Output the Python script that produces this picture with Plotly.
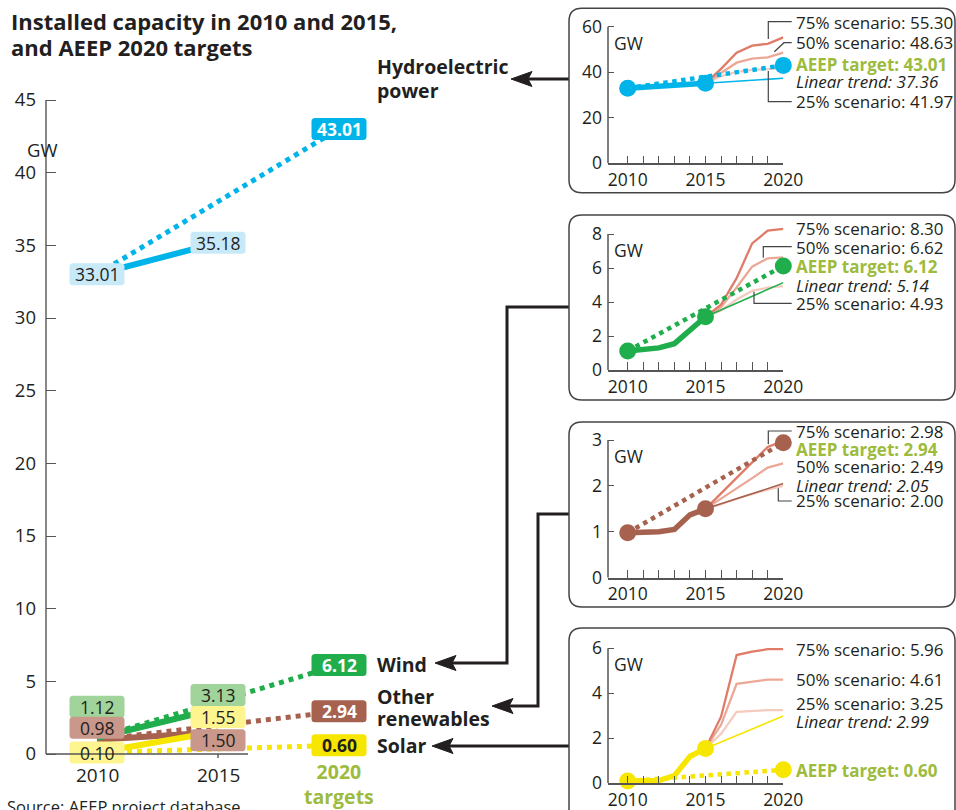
import plotly.graph_objects as go

# ---------------- data ----------------
years_actual = [2010, 2011, 2012, 2013, 2014, 2015]
years_scen = [2015, 2016, 2017, 2018, 2019, 2020]
trend_years = [2015, 2020]

hydro_actual = [33.01, 33.45, 33.9, 34.3, 34.75, 35.18]
hydro_s75 = [35.18, 41.5, 48.6, 51.7, 52.5, 55.30]
hydro_s50 = [35.18, 39.5, 44.2, 46.0, 46.5, 48.63]
hydro_s25 = [35.18, 38.3, 40.2, 41.0, 41.4, 41.97]
hydro_linear = [35.18, 37.36]
hydro_target = 43.01

wind_actual = [1.12, 1.2, 1.3, 1.55, 2.35, 3.13]
wind_s75 = [3.13, 3.85, 5.4, 7.45, 8.2, 8.30]
wind_s50 = [3.13, 3.7, 4.85, 6.08, 6.57, 6.62]
wind_s25 = [3.13, 3.5, 4.15, 4.65, 4.85, 4.93]
wind_linear = [3.13, 5.14]
wind_target = 6.12

other_actual = [0.98, 0.98, 1.0, 1.05, 1.37, 1.50]
other_s75 = [1.50, 1.84, 2.18, 2.52, 2.85, 2.98]
other_s50 = [1.50, 1.72, 1.95, 2.17, 2.40, 2.49]
other_s25 = [1.50, 1.60, 1.72, 1.82, 1.92, 2.00]
other_linear = [1.50, 2.05]
other_target = 2.94

solar_actual = [0.10, 0.10, 0.12, 0.34, 1.19, 1.55]
solar_s75 = [1.55, 2.96, 5.70, 5.85, 5.96, 5.96]
solar_s50 = [1.55, 2.60, 4.42, 4.52, 4.61, 4.61]
solar_s25 = [1.55, 2.20, 3.18, 3.22, 3.25, 3.25]
solar_linear = [1.55, 2.99]
solar_target = 0.60

main_years = [2010, 2015, 2020]
main_x_labels = ["2010", "2015", "2020<br>targets"]
main_y_ticks = [0, 5, 10, 15, 20, 25, 30, 35, 40, 45]
series_names = ["Hydroelectric<br>power", "Wind", "Other<br>renewables", "Solar"]
title_lines = ["Installed capacity in 2010 and 2015,", "and AEEP 2020 targets"]

# ---------------- styling ----------------
W, H = 956, 810
FONT = "Open Sans"
TXT = "#231f20"
AXC = "#555555"
GREEN_TXT = "#9dbb3c"
C75, C50, C25 = "#e07b68", "#eca897", "#f5cbbf"

def PX(x):
    return x / W

def PY(y):
    return 1 - y / H

series = [
    dict(key="hydro", actual=hydro_actual, s75=hydro_s75, s50=hydro_s50, s25=hydro_s25,
         lin=hydro_linear, target=hydro_target, col="#00b4e9", light="#c8e9f8", dark="#00b4e9",
         darktxt="white", ymax=60, ytick=[0, 20, 40, 60], y0px=163.3, ytoppx=26.7,
         shifts=(0, 0, 0)),
    dict(key="wind", actual=wind_actual, s75=wind_s75, s50=wind_s50, s25=wind_s25,
         lin=wind_linear, target=wind_target, col="#1fae4b", light="#a0d49b", dark="#1fae4b",
         darktxt="white", ymax=8, ytick=[0, 2, 4, 6, 8], y0px=370, ytoppx=234,
         shifts=(31, 13.5, 0)),
    dict(key="other", actual=other_actual, s75=other_s75, s50=other_s50, s25=other_s25,
         lin=other_linear, target=other_target, col="#a6614f", light="#ca978b", dark="#a6614f",
         darktxt="white", ymax=3, ytick=[0, 1, 2, 3], y0px=577.7, ytoppx=440,
         shifts=(12, -8, 0)),
    dict(key="solar", actual=solar_actual, s75=solar_s75, s50=solar_s50, s25=solar_s25,
         lin=solar_linear, target=solar_target, col="#f6e600", light="#fff590", dark="#f6e600",
         darktxt=TXT, ymax=6, ytick=[0, 2, 4, 6], y0px=783.3, ytoppx=648.3,
         shifts=(0, 14.5, 0)),
]

fig = go.Figure()

# ---------------- main chart ----------------
MX0, MX1 = 46, 420          # px extent of main x domain
X2010PX, PXYR = 97, 24.2
Y0PX, PXGW = 754, (754 - 100) / 45
main_xrange = [2010 - (X2010PX - MX0) / PXYR, 2010 + (MX1 - X2010PX) / PXYR]
main_yrange = [-1.2, 45.5]
main_ydom = [PY(Y0PX - main_yrange[0] * PXGW), PY(Y0PX - main_yrange[1] * PXGW)]

draw_order = [0, 2, 3, 1]
for i in draw_order:
    s = series[i]
    fig.add_trace(go.Scatter(x=[main_years[0], main_years[2]], y=[s["actual"][0], s["target"]],
                             mode="lines", line=dict(color=s["col"], width=5, dash="dot"),
                             xaxis="x", yaxis="y", hoverinfo="skip"))
    fig.add_trace(go.Scatter(x=[main_years[0], main_years[1]], y=[s["actual"][0], s["actual"][-1]],
                             mode="lines", line=dict(color=s["col"], width=6),
                             xaxis="x", yaxis="y", hoverinfo="skip"))

shapes = []
annotations = []

def rbox_path(w, h, r, c):
    x0, x1 = -w / 2, w / 2
    yb, yt = c - h / 2, c + h / 2
    return (f"M {x0+r},{yb} L {x1-r},{yb} Q {x1},{yb} {x1},{yb+r} L {x1},{yt-r} "
            f"Q {x1},{yt} {x1-r},{yt} L {x0+r},{yt} Q {x0},{yt} {x0},{yt-r} "
            f"L {x0},{yb+r} Q {x0},{yb} {x0+r},{yb} Z")

for s in series:
    vals = [s["actual"][0], s["actual"][-1], s["target"]]
    for j, (yr, v) in enumerate(zip(main_years, vals)):
        dark = j == 2
        shift = s["shifts"][j]
        shapes.append(dict(type="path", xref="x", yref="y", xsizemode="pixel", ysizemode="pixel",
                           xanchor=yr, yanchor=v, path=rbox_path(55, 22, 3.5, shift),
                           fillcolor=s["dark"] if dark else s["light"], line=dict(width=0),
                           layer="above"))
        annotations.append(dict(xref="x", yref="y", x=yr, y=v, yshift=shift, showarrow=False,
                                text=(f"<b>{v:.2f}</b>" if dark else f"{v:.2f}"),
                                font=dict(size=17.5, color=s["darktxt"] if dark else TXT,
                                          family=FONT)))

# main axis lines
shapes.append(dict(type="line", xref="paper", yref="y", x0=PX(MX0), x1=PX(MX0), y0=0, y1=45,
                   line=dict(color=AXC, width=1.4)))
shapes.append(dict(type="line", xref="paper", yref="y", x0=PX(MX0), x1=PX(248), y0=0, y1=0,
                   line=dict(color=AXC, width=1.4)))
shapes.append(dict(type="line", xref="x", yref="paper", x0=2015, x1=2015,
                   y0=PY(Y0PX), y1=PY(Y0PX + 4), line=dict(color=AXC, width=1.4)))

# main x labels
for yr, lab in zip(main_years, main_x_labels):
    if "targets" in lab:
        annotations.append(dict(xref="x", yref="paper", x=yr, y=PY(784), yanchor="middle",
                                showarrow=False, text=f"<b>{lab}</b>",
                                font=dict(size=19.5, color=GREEN_TXT, family=FONT)))
    else:
        annotations.append(dict(xref="x", yref="paper", x=yr, y=PY(774.5), yanchor="middle",
                                showarrow=False, text=lab,
                                font=dict(size=19, color=TXT, family=FONT)))

annotations.append(dict(xref="paper", yref="paper", x=PX(25), y=PY(135), showarrow=False,
                        text="GW", font=dict(size=18.5, color=TXT, family=FONT)))
for line, ypx in zip(title_lines, [21, 47]):
    annotations.append(dict(xref="paper", yref="paper", x=PX(9), y=PY(ypx), xanchor="left",
                            yanchor="middle", showarrow=False, text=f"<b>{line}</b>",
                            font=dict(size=22, color=TXT, family=FONT)))
annotations.append(dict(xref="paper", yref="paper", x=PX(5), y=PY(806), xanchor="left",
                        yanchor="middle", showarrow=False, text="Source: AEEP project database",
                        font=dict(size=16.5, color=TXT, family=FONT)))

# series name labels next to main chart
name_pos = [(67, 90), (664,), (696, 718), (745,)]
for name, ys in zip(series_names, name_pos):
    for part, ypx in zip(name.split("<br>"), ys):
        annotations.append(dict(xref="paper", yref="paper", x=PX(375), y=PY(ypx), xanchor="left",
                                yanchor="middle", showarrow=False, text=f"<b>{part}</b>",
                                font=dict(size=19.5, color=TXT, family=FONT)))

# connectors with arrowheads
connectors = [
    [(569, 79), (528, 79)],
    [(569, 307), (507, 307), (507, 663), (452, 663)],
    [(569, 514), (538, 514), (538, 706), (509, 706)],
    [(569, 746), (449, 746)],
]
tips = [(511, 79), (435, 663), (492, 706), (432, 746)]
for pts, (tx, ty) in zip(connectors, tips):
    p = "M " + " L ".join(f"{PX(x)},{PY(y)}" for x, y in pts)
    shapes.append(dict(type="path", xref="paper", yref="paper", path=p,
                       line=dict(color=TXT, width=3)))
    ah = (f"M {PX(tx)},{PY(ty)} L {PX(tx+21)},{PY(ty-7.5)} L {PX(tx+17)},{PY(ty)} "
          f"L {PX(tx+21)},{PY(ty+7.5)} Z")
    shapes.append(dict(type="path", xref="paper", yref="paper", path=ah, fillcolor=TXT,
                       line=dict(color=TXT, width=1)))

# ---------------- insets ----------------
IX0, I2010, I2020 = 608, 627.7, 783.3
ipx_yr = (I2020 - I2010) / 10
inset_xrange = [2010 - (I2010 - IX0) / ipx_yr, 2020]
panel_boxes = [(8.3, 192.7), (215, 400), (422, 607), (628, 840)]

label_specs = [
    [("s75", 22.7), ("s50", 42.7), ("tgt", 64.5), ("lin", 82), ("s25", 101.7)],
    [("s75", 228.3), ("s50", 247.3), ("tgt", 266.5), ("lin", 285), ("s25", 303.3)],
    [("s75", 431), ("tgt", 449), ("s50", 466.7), ("lin", 485), ("s25", 501)],
    [("s75", 649.3), ("s50", 679.3), ("s25", 703.3), ("lin", 721.7), ("tgt", 770.7)],
]
leaders = [
    [[(768.3, 39), (768.3, 21.7), (791.7, 21.7)],
     [(774.3, 51.7), (784, 42.7), (791.7, 42.7)],
     [(768.3, 71), (768.3, 101.7), (791.7, 101.7)]],
    [[(763.3, 257.7), (763.3, 246.7), (791.7, 246.7)],
     [(754, 291.7), (754, 303.3), (791.7, 303.3)]],
    [[(768.3, 444.3), (768.3, 431), (791.7, 431)],
     [(778.3, 488.3), (778.3, 501), (791.7, 501)]],
    [],
]

layout_axes = {}
for k, s in enumerate(series):
    n = k + 2
    xa, ya = f"x{n}", f"y{n}"
    scale = (s["y0px"] - s["ytoppx"]) / s["ymax"]
    extra = 14
    yr_top = s["ymax"] + extra / scale
    ydom = [PY(s["y0px"]), PY(s["ytoppx"] - extra)]
    layout_axes[f"xaxis{n}"] = dict(
        domain=[PX(IX0), PX(I2020)], range=inset_xrange, anchor=ya, automargin=False,
        tickvals=list(range(2010, 2021)),
        ticktext=[str(y) if y in (2010, 2015, 2020) else "" for y in range(2010, 2021)],
        ticks="inside", ticklen=8, tickwidth=1.3, tickcolor=AXC,
        showline=True, linecolor=AXC, linewidth=1.5, showgrid=False, zeroline=False,
        tickfont=dict(size=17.5, color=TXT, family=FONT), ticklabelstandoff=0)
    layout_axes[f"yaxis{n}"] = dict(
        domain=ydom, range=[0, yr_top], anchor=xa, tickvals=s["ytick"], automargin=False,
        ticks="inside", ticklen=6, tickwidth=1.3, tickcolor=AXC,
        showline=False, showgrid=False, zeroline=False,
        tickfont=dict(size=17.5, color=TXT, family=FONT), ticklabelstandoff=5)
    shapes.append(dict(type="line", xref="paper", yref=ya, x0=PX(IX0), x1=PX(IX0),
                       y0=0, y1=s["ymax"], line=dict(color=AXC, width=1.5)))

    for key, c in (("s25", C25), ("s50", C50), ("s75", C75)):
        fig.add_trace(go.Scatter(x=years_scen, y=s[key], mode="lines",
                                 line=dict(color=c, width=2.3), xaxis=xa, yaxis=ya,
                                 hoverinfo="skip"))
    fig.add_trace(go.Scatter(x=trend_years, y=s["lin"], mode="lines",
                             line=dict(color=s["col"], width=1.6), xaxis=xa, yaxis=ya,
                             hoverinfo="skip"))
    fig.add_trace(go.Scatter(x=[2010, 2020], y=[s["actual"][0], s["target"]], mode="lines",
                             line=dict(color=s["col"], width=4.5, dash="dot"), xaxis=xa, yaxis=ya,
                             hoverinfo="skip"))
    fig.add_trace(go.Scatter(x=years_actual, y=s["actual"], mode="lines",
                             line=dict(color=s["col"], width=5.5), xaxis=xa, yaxis=ya,
                             hoverinfo="skip"))
    fig.add_trace(go.Scatter(x=[2010, 2015, 2020], y=[s["actual"][0], s["actual"][-1], s["target"]],
                             mode="markers", marker=dict(color=s["col"], size=17),
                             cliponaxis=False, xaxis=xa, yaxis=ya, hoverinfo="skip"))

    # GW unit
    annotations.append(dict(xref="paper", yref="paper", x=PX(612), y=PY(s["ytoppx"] + 16),
                            xanchor="left", yanchor="middle", showarrow=False, text="GW",
                            font=dict(size=17.5, color=TXT, family=FONT)))
    # labels
    for key, ypx in label_specs[k]:
        if key == "tgt":
            txt = f"<b>AEEP target: {s['target']:.2f}</b>"
            col = GREEN_TXT
        elif key == "lin":
            txt = f"<i>Linear trend: {s['lin'][-1]:.2f}</i>"
            col = TXT
        else:
            txt = f"{key[1:]}% scenario: {s[key][-1]:.2f}"
            col = TXT
        annotations.append(dict(xref="paper", yref="paper", x=PX(795), y=PY(ypx),
                                xanchor="left", yanchor="middle", showarrow=False, text=txt,
                                borderpad=0,
                                font=dict(size=17, color=col, family=FONT)))
    for pts in leaders[k]:
        p = "M " + " L ".join(f"{PX(x)},{PY(y)}" for x, y in pts)
        shapes.append(dict(type="path", xref="paper", yref="paper", path=p,
                           line=dict(color="#444444", width=1.2)))

    # panel frame
    y0, y1 = panel_boxes[k]
    x0, x1, r = 569, 955, 13
    p = (f"M {PX(x0+r)},{PY(y0)} L {PX(x1-r)},{PY(y0)} Q {PX(x1)},{PY(y0)} {PX(x1)},{PY(y0+r)} "
         f"L {PX(x1)},{PY(y1-r)} Q {PX(x1)},{PY(y1)} {PX(x1-r)},{PY(y1)} "
         f"L {PX(x0+r)},{PY(y1)} Q {PX(x0)},{PY(y1)} {PX(x0)},{PY(y1-r)} "
         f"L {PX(x0)},{PY(y0+r)} Q {PX(x0)},{PY(y0)} {PX(x0+r)},{PY(y0)} Z")
    shapes.append(dict(type="path", xref="paper", yref="paper", path=p,
                       line=dict(color="#444444", width=1.5)))

fig.update_layout(
    template="none",
    width=W, height=H, margin=dict(l=0, r=0, t=0, b=0, pad=0), autosize=False,
    paper_bgcolor="white", plot_bgcolor="rgba(0,0,0,0)",
    showlegend=False, font=dict(family=FONT, color=TXT),
    xaxis=dict(domain=[PX(MX0), PX(MX1)], range=main_xrange, showgrid=False, zeroline=False,
               showticklabels=False, ticks="", showline=False, automargin=False),
    yaxis=dict(domain=main_ydom, range=main_yrange, tickvals=main_y_ticks, ticks="inside",
               ticklen=10, tickwidth=1.4, tickcolor=AXC, showline=False, showgrid=False,
               zeroline=False, tickfont=dict(size=18.5, color=TXT, family=FONT),
               ticklabelstandoff=9, automargin=False),
    shapes=shapes, annotations=annotations,
    **layout_axes,
)

fig.write_html("out.html", config={"displayModeBar": False},
               post_script="document.body.style.margin='0px';"
                           "document.documentElement.style.overflow='hidden';")
